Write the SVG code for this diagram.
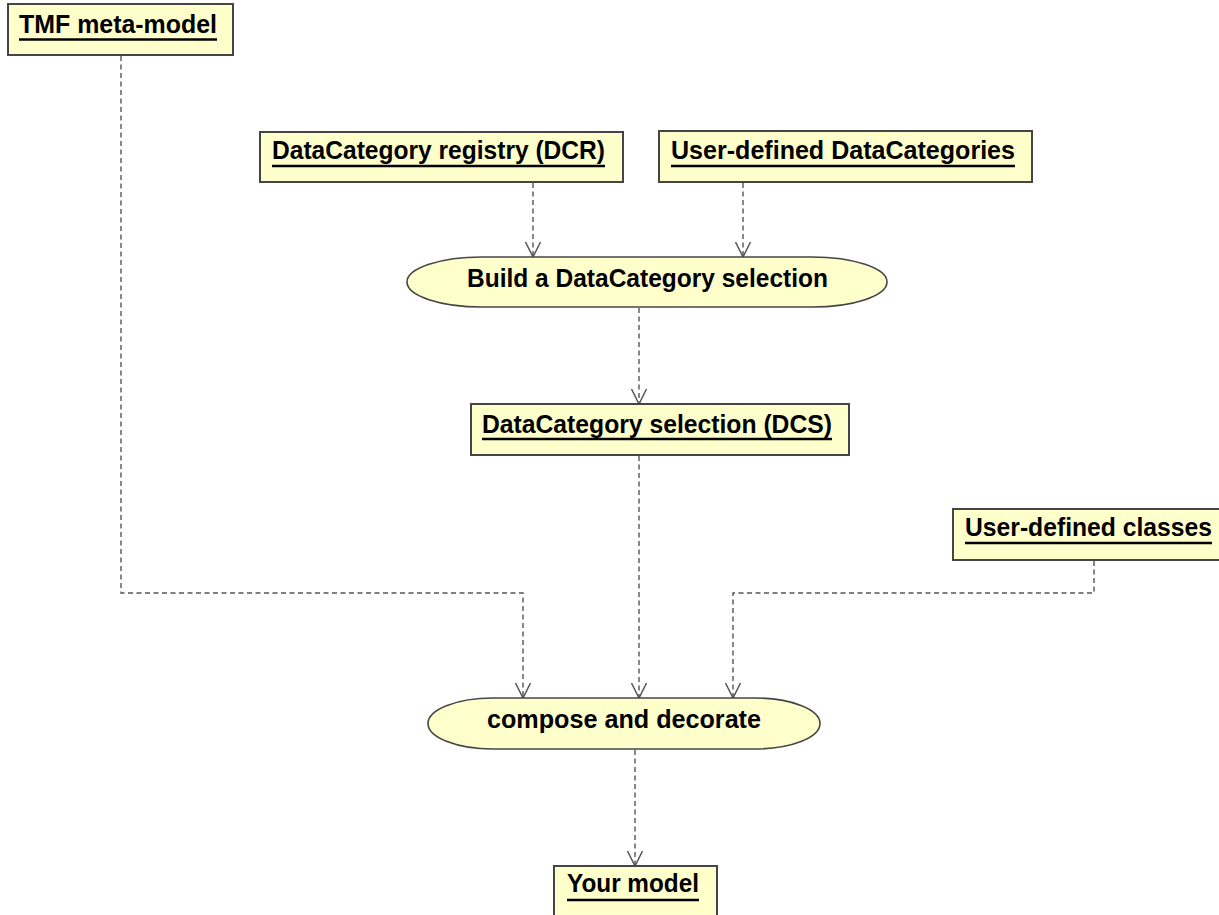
<svg xmlns="http://www.w3.org/2000/svg" width="1219" height="915" viewBox="0 0 1219 915">
  <style>
    .box { fill: #ffffcc; stroke: #454545; stroke-width: 2; }
    .act { fill: #ffffcc; stroke: #454545; stroke-width: 1.6; }
    .lbl { font-family: "Liberation Sans", Arial, sans-serif; font-weight: bold; font-size: 26px; fill: #000; }
    .ul { stroke: #000; stroke-width: 2.4; }
    .dep { fill: none; stroke: #555; stroke-width: 1.4; stroke-dasharray: 5 3.5; }
  </style>
  <defs>
    <marker id="open" viewBox="0 0 20 20" refX="10" refY="17" markerWidth="20" markerHeight="20" markerUnits="userSpaceOnUse" orient="0">
      <path d="M2.5,2 L10,17 L17.5,2" fill="none" stroke="#555" stroke-width="1.5"/>
    </marker>
  </defs>

  <rect width="1219" height="915" fill="#fff"/>

  <g id="connectors">
    <path class="dep" d="M533,183 V257" marker-end="url(#open)"/>
    <path class="dep" d="M743,183 V257" marker-end="url(#open)"/>
    <path class="dep" d="M639,308 V404" marker-end="url(#open)"/>
    <path class="dep" d="M639,456 V698" marker-end="url(#open)"/>
    <path class="dep" d="M121,56 V593 H523 V698" marker-end="url(#open)"/>
    <path class="dep" d="M1094,561 V593 H733 V698" marker-end="url(#open)"/>
    <path class="dep" d="M635,750 V866" marker-end="url(#open)"/>
  </g>

  <g id="tmf-meta-model">
    <rect class="box" x="8" y="4" width="225" height="51"/>
    <text class="lbl" x="19" y="33" textLength="198" lengthAdjust="spacingAndGlyphs">TMF meta-model</text>
    <line class="ul" x1="19" y1="39.5" x2="217" y2="39.5"/>
  </g>

  <g id="dcr">
    <rect class="box" x="260" y="132" width="363" height="50"/>
    <text class="lbl" x="272" y="159" textLength="333" lengthAdjust="spacingAndGlyphs">DataCategory registry (DCR)</text>
    <line class="ul" x1="272" y1="166" x2="605" y2="166"/>
  </g>

  <g id="user-datacategories">
    <rect class="box" x="659" y="131" width="373" height="51"/>
    <text class="lbl" x="671" y="159" textLength="344" lengthAdjust="spacingAndGlyphs">User-defined DataCategories</text>
    <line class="ul" x1="671" y1="166" x2="1015" y2="166"/>
  </g>

  <g id="build-selection">
    <rect class="act" x="407" y="257" width="480" height="50" rx="75" ry="25"/>
    <text class="lbl" x="467" y="287" textLength="361" lengthAdjust="spacingAndGlyphs">Build a DataCategory selection</text>
  </g>

  <g id="dcs">
    <rect class="box" x="471" y="404" width="378" height="51"/>
    <text class="lbl" x="482" y="433" textLength="350" lengthAdjust="spacingAndGlyphs">DataCategory selection (DCS)</text>
    <line class="ul" x1="482" y1="439" x2="832" y2="439"/>
  </g>

  <g id="user-classes">
    <rect class="box" x="953" y="509" width="280" height="51"/>
    <text class="lbl" x="965" y="536" textLength="247" lengthAdjust="spacingAndGlyphs">User-defined classes</text>
    <line class="ul" x1="965" y1="543" x2="1212" y2="543"/>
  </g>

  <g id="compose-decorate">
    <rect class="act" x="428" y="698" width="392" height="51" rx="65" ry="25.5"/>
    <text class="lbl" x="487" y="728" textLength="274" lengthAdjust="spacingAndGlyphs">compose and decorate</text>
  </g>

  <g id="your-model">
    <rect class="box" x="554" y="866" width="163" height="60"/>
    <text class="lbl" x="567" y="892" textLength="132" lengthAdjust="spacingAndGlyphs">Your model</text>
    <line class="ul" x1="567" y1="900" x2="699" y2="900"/>
  </g>
</svg>
